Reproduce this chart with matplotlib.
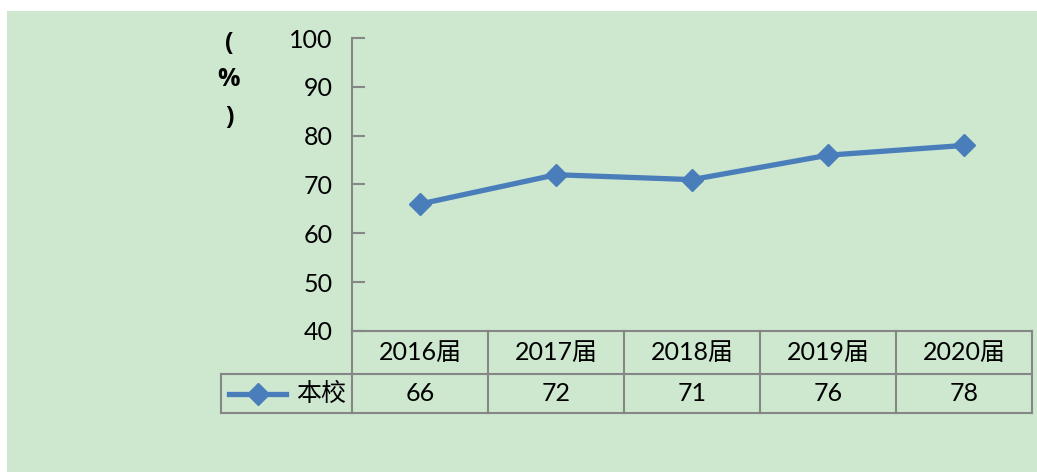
import matplotlib.pyplot as plt
from matplotlib.lines import Line2D
from matplotlib.patches import Rectangle
import matplotlib.transforms as mtransforms

plt.rcParams['font.family'] = ['Lato', 'Noto Sans CJK SC', 'DejaVu Sans']

# datos
categorias = ['2016届', '2017届', '2018届', '2019届', '2020届']
valores = [66, 72, 71, 76, 78]
serie = '本校'
yticks = [40, 50, 60, 70, 80, 90, 100]

verde = '#cde8cf'
azul = '#4a7ebb'
gris = '#868686'
fs = 18

W, H = 1037, 472
fig = plt.figure(figsize=(W / 100, H / 100), dpi=100)
fig.patch.set_facecolor('white')
fig.patches.append(Rectangle((7 / W, 0), 1 - 7 / W, 1 - 11 / H, transform=fig.transFigure,
                             facecolor=verde, edgecolor='none', zorder=-10))

ax = fig.add_axes([352 / W, 1 - 331 / H, (1032 - 352) / W, (331 - 38) / H])
ax.set_facecolor('none')
x = list(range(len(categorias)))
ax.plot(x, valores, color=azul, lw=3.8, marker='D', markersize=11, zorder=3, clip_on=False)
ax.set_xlim(-0.5, len(categorias) - 0.5)
ax.set_ylim(40, 100)
ax.set_yticks(yticks)
ax.set_xticks([])
ax.tick_params(axis='y', direction='in', length=9, width=1.5, color=gris, labelsize=fs, pad=14)
for s in ['top', 'right']:
    ax.spines[s].set_visible(False)
ax.spines['left'].set_color(gris)
ax.spines['left'].set_linewidth(1.5)
ax.spines['bottom'].set_color(gris)
ax.spines['bottom'].set_linewidth(1.5)

# tabla de datos debajo del eje
trans = mtransforms.blended_transform_factory(ax.transData, ax.transAxes)
alto = 331 - 38
y1 = -43 / alto
y2 = -82 / alto
izq = -0.5 + (221 - 352) / 136
der = len(categorias) - 0.5
kw = dict(color=gris, lw=1.5, transform=trans, clip_on=False)
ax.add_line(Line2D([-0.5, der], [y1, y1], **kw))
ax.add_line(Line2D([izq, der], [y2, y2], **kw))
ax.add_line(Line2D([izq, -0.5], [y1, y1], **kw))
ax.add_line(Line2D([izq, izq], [y1, y2], **kw))
for i in range(len(categorias) + 1):
    ax.add_line(Line2D([i - 0.5, i - 0.5], [0, y2], **kw))
for i, (c, v) in enumerate(zip(categorias, valores)):
    ax.text(i, y1 / 2, c, transform=trans, ha='center', va='center', fontsize=fs)
    ax.text(i, (y1 + y2) / 2, str(v), transform=trans, ha='center', va='center', fontsize=fs)

# leyenda dentro de la tabla
ym = (y1 + y2) / 2
ax.add_line(Line2D([izq + 0.06, izq + 0.48], [ym, ym], color=azul, lw=3.8,
                   transform=trans, clip_on=False))
ax.add_line(Line2D([izq + 0.27], [ym], color=azul, marker='D', markersize=11,
                   transform=trans, clip_on=False))
ax.text(-0.54, ym, serie, transform=trans, ha='right', va='center', fontsize=fs,
        family=['Noto Sans CJK SC', 'DejaVu Sans'], fontweight='light')

# unidad (%)
for txt, yp in zip(['(', '%', ')'], [44, 80, 117]):
    fig.text(229 / W, 1 - yp / H, txt, ha='center', va='center', fontsize=18,
             fontweight='bold', family=['Open Sans', 'DejaVu Sans'])

fig.savefig('out.png', dpi=100, facecolor=fig.get_facecolor())
